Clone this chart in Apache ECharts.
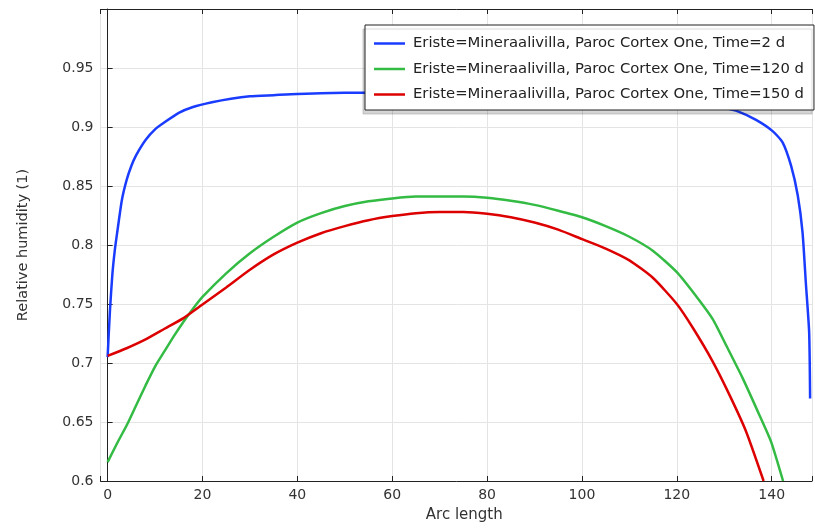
<!DOCTYPE html>
<html>
<head>
<meta charset="utf-8">
<script src="https://cdn.jsdelivr.net/npm/echarts@6/dist/echarts.min.js"></script>
<style>
html,body{margin:0;padding:0;background:#fff;}
#chart{width:815px;height:528px;}
</style>
</head>
<body>
<div id="chart"></div>
<script>
// Series names
const seriesNames = [
  'Eriste=Mineraalivilla, Paroc Cortex One, Time=2 d',
  'Eriste=Mineraalivilla, Paroc Cortex One, Time=120 d',
  'Eriste=Mineraalivilla, Paroc Cortex One, Time=150 d'
];

// Time = 2 d
const arc2d = [0, 0.5, 1, 1.5, 2, 3, 4, 5, 6, 8, 10, 12, 15, 18, 22, 26, 30, 35, 40, 50, 60, 70, 80, 90, 100, 110, 120, 125, 130, 133, 136.7, 140.2, 142.3, 144.1, 145.5, 146.5, 147.2, 147.9, 148.1];
const rh2d = [0.705, 0.745, 0.775, 0.795, 0.81, 0.838, 0.855, 0.867, 0.876, 0.889, 0.898, 0.904, 0.912, 0.917, 0.921, 0.924, 0.926, 0.927, 0.928, 0.929, 0.929, 0.929, 0.929, 0.928, 0.927, 0.925, 0.922, 0.919, 0.916, 0.913, 0.906, 0.8965, 0.887, 0.867, 0.842, 0.811, 0.768, 0.726, 0.67];

// Time = 120 d
const arc120d = [0, 2, 4, 6, 8, 10, 12, 14, 16, 18, 20, 25, 30, 35, 40, 45, 50, 55, 60, 65, 70, 75, 80, 85, 90, 95, 100, 105, 110, 115, 120, 124, 127.6, 130.4, 133.9, 137.4, 139.9, 142.4];
const rh120d = [0.616, 0.632, 0.647, 0.664, 0.681, 0.697, 0.71, 0.723, 0.735, 0.746, 0.756, 0.776, 0.793, 0.807, 0.819, 0.827, 0.833, 0.837, 0.8395, 0.841, 0.841, 0.841, 0.840, 0.8375, 0.834, 0.829, 0.8235, 0.816, 0.807, 0.795, 0.777, 0.757, 0.737, 0.715, 0.687, 0.656, 0.633, 0.6];

// Time = 150 d
const arc150d = [0, 4, 8, 12, 16, 20, 25, 30, 35, 40, 45, 50, 55, 60, 65, 70, 75, 80, 85, 90, 95, 100, 105, 110, 115, 120, 123.5, 127.6, 131.1, 134.6, 138.3];
const rh150d = [0.706, 0.7125, 0.72, 0.729, 0.738, 0.7495, 0.764, 0.779, 0.792, 0.802, 0.81, 0.816, 0.821, 0.8245, 0.827, 0.828, 0.828, 0.8265, 0.8235, 0.819, 0.813, 0.805, 0.797, 0.787, 0.772, 0.75, 0.729, 0.701, 0.673, 0.642, 0.6];

const colors = ['#1a3cff', '#33bb44', '#dd0000'];

function pairs(xs, ys) { return xs.map((x, i) => [x, ys[i]]); }

const FONT = 'DejaVu Sans';
const chart = echarts.init(document.getElementById('chart'), null, {renderer: 'canvas'});

const xBase = {
  type: 'value', min: -1.5, max: 148.5, minInterval: 20, maxInterval: 20,
  axisTick: {show: true, inside: true, length: 5, lineStyle: {color: '#222'}},
};

function lineSeries(i, xs, ys) {
  return {name: seriesNames[i], type: 'line', xAxisIndex: 0, symbol: 'none', showSymbol: false,
    smooth: 0.2, clip: true,
    lineStyle: {color: colors[i], width: 2.5}, itemStyle: {color: colors[i]}, data: pairs(xs, ys)};
}

chart.setOption({
  animation: false,
  backgroundColor: '#fff',
  textStyle: {fontFamily: FONT},
  grid: {left: 100.5, top: 9, right: -1, bottom: 45, containLabel: false},
  legend: {
    left: 365, top: 25, orient: 'vertical',
    padding: [11, 10, 8, 9],
    icon: 'rect',
    itemWidth: 31, itemHeight: 2.5, itemGap: 10.5,
    backgroundColor: '#fff', borderColor: '#222', borderWidth: 1,
    shadowColor: 'rgba(0,0,0,0.16)', shadowBlur: 1, shadowOffsetX: -2, shadowOffsetY: 4,
    textStyle: {fontFamily: FONT, fontSize: 14.8, lineHeight: 14, color: '#222', padding: [0, 0, 0, 3]},
    data: seriesNames
  },
  xAxis: [
    Object.assign({}, xBase, {
      position: 'bottom',
      name: 'Arc length', nameLocation: 'middle', nameGap: 27,
      nameTextStyle: {fontFamily: FONT, fontSize: 15, color: '#333', padding: [0, 0, 0, 16]},
      axisLine: {show: true, lineStyle: {color: '#222', width: 1}},
      axisLabel: {fontFamily: FONT, fontSize: 14, color: '#333', margin: 7,
        formatter: v => (Math.abs(v % 20) < 1e-6 ? String(v) : '')},
      splitLine: {show: true, lineStyle: {color: '#e4e4e4', width: 1}}
    }),
    Object.assign({}, xBase, {
      position: 'top',
      axisLine: {show: true, lineStyle: {color: '#222', width: 1}},
      axisLabel: {show: false},
      splitLine: {show: false}
    })
  ],
  yAxis: {
    type: 'value', min: 0.6, max: 1.0, interval: 0.05,
    name: 'Relative humidity (1)', nameLocation: 'middle', nameGap: 70,
    nameTextStyle: {fontFamily: FONT, fontSize: 14.5, color: '#333'},
    axisLine: {show: true, lineStyle: {color: '#222', width: 1}},
    axisTick: {show: true, inside: true, length: 5, lineStyle: {color: '#222'}},
    axisLabel: {fontFamily: FONT, fontSize: 14, color: '#333', margin: 7, showMaxLabel: false,
      formatter: v => String(Math.round(v * 100) / 100)},
    splitLine: {show: true, lineStyle: {color: '#e4e4e4', width: 1}}
  },
  series: [
    lineSeries(0, arc2d, rh2d),
    lineSeries(1, arc120d, rh120d),
    lineSeries(2, arc150d, rh150d)
  ]
});
</script>
</body>
</html>
